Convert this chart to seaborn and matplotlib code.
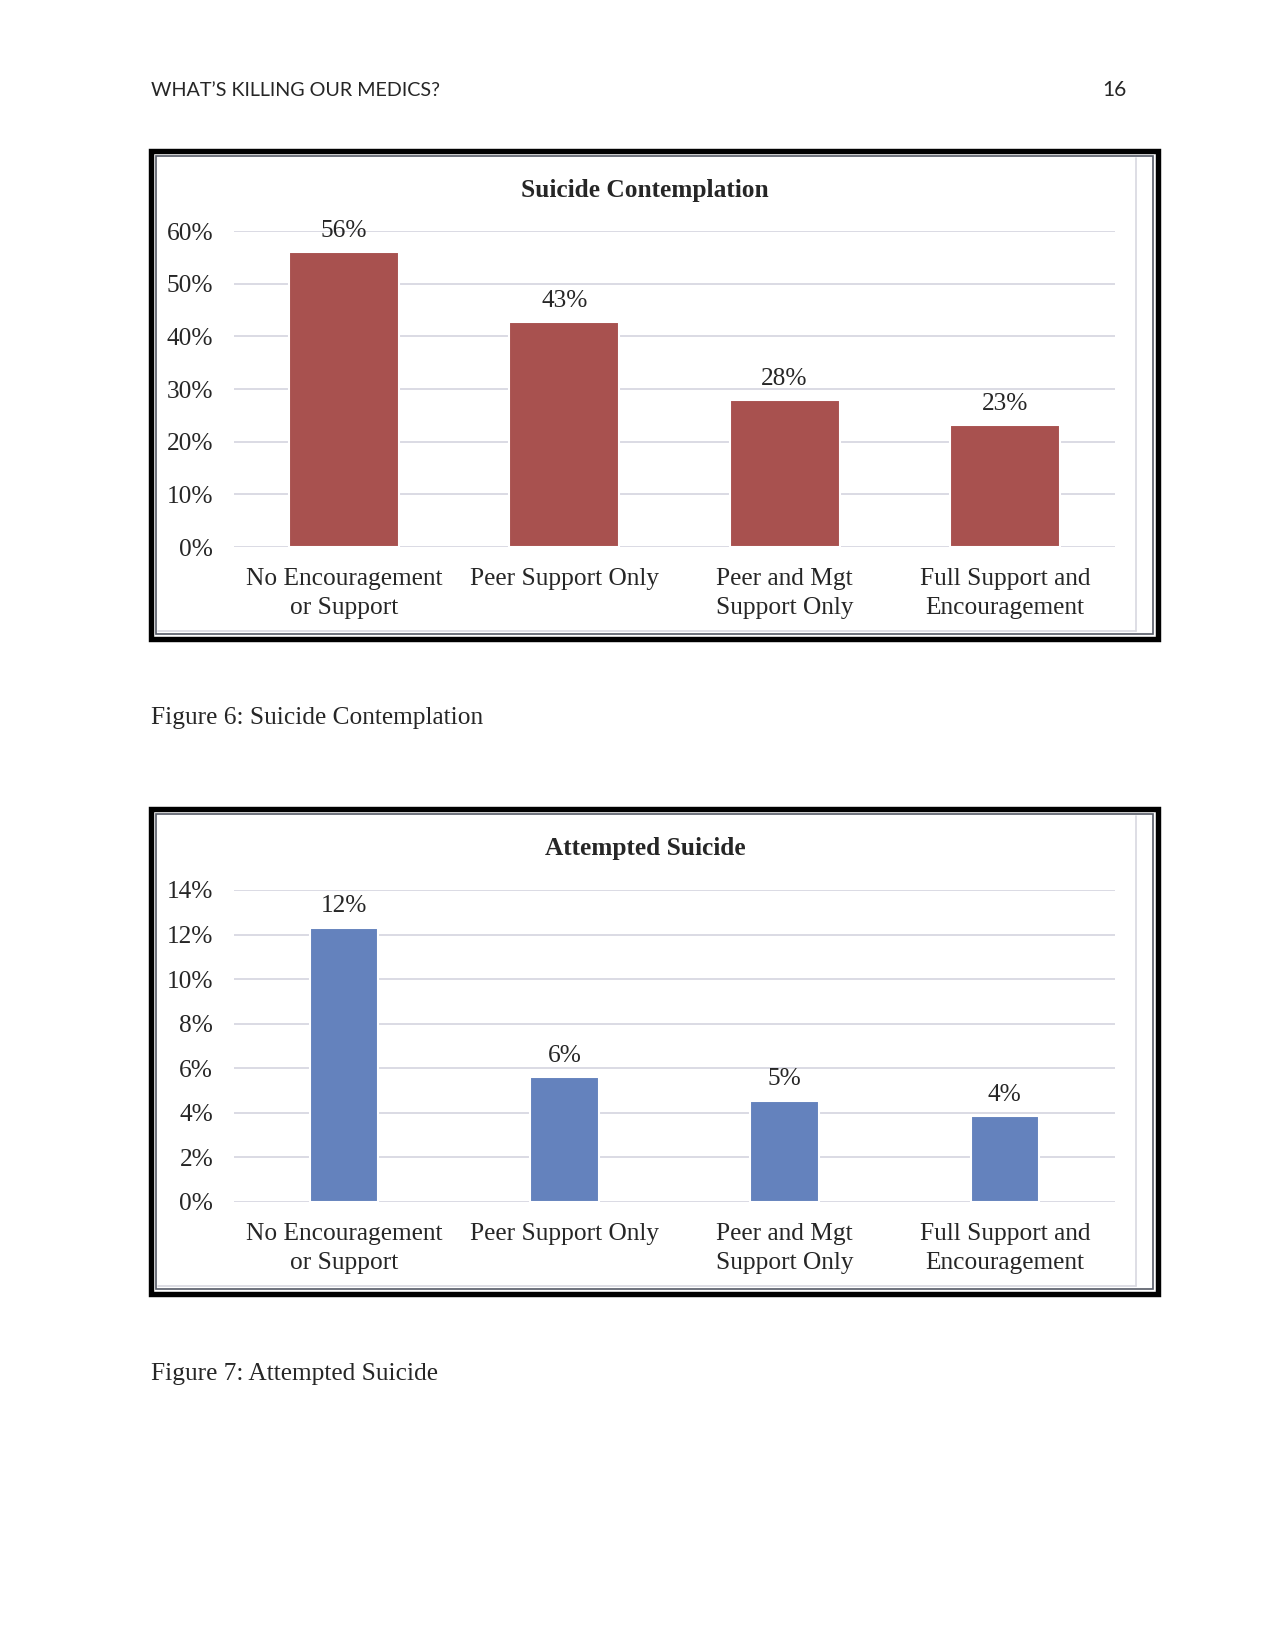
import pandas as pd
import seaborn as sns
import matplotlib.pyplot as plt
from matplotlib.patches import Rectangle
from matplotlib.lines import Line2D
from matplotlib.ticker import PercentFormatter

# dados
categorias = ['No Encouragement\nor Support', 'Peer Support Only',
              'Peer and Mgt\nSupport Only', 'Full Support and\nEncouragement']
contemplacao = [56.0, 42.7, 27.9, 23.1]
contemplacao_rotulos = ['56%', '43%', '28%', '23%']
tentativa = [12.3, 5.6, 4.55, 3.85]
tentativa_rotulos = ['12%', '6%', '5%', '4%']

W, H = 1275, 1650
sns.set_style('white')
plt.rcParams['font.family'] = ['Liberation Serif', 'DejaVu Serif']

fig = plt.figure(figsize=(W / 150, H / 150), dpi=150)


def fx(px):
    return px / W


def fy(py):
    return 1 - py / H


def moldura(y_top, y_bot, x_left=151, x_right=1158):
    # borda dupla: preta grossa por fora, cinza fina por dentro
    fig.patches.append(Rectangle((fx(x_left), fy(y_bot)), fx(x_right - x_left), (y_bot - y_top) / H,
                                 transform=fig.transFigure, fill=False, ec='black', lw=2.6))
    fig.patches.append(Rectangle((fx(x_left + 5), fy(y_bot - 5)), fx(x_right - x_left - 10), (y_bot - y_top - 10) / H,
                                 transform=fig.transFigure, fill=False, ec='#555a66', lw=0.8))
    fig.lines.append(Line2D([fx(x_right - 22), fx(x_right - 22)], [fy(y_top + 7), fy(y_bot - 8)],
                            transform=fig.transFigure, color='#d8d8e0', lw=0.8))
    fig.lines.append(Line2D([fx(x_left + 7), fx(x_right - 22)], [fy(y_bot - 8), fy(y_bot - 8)],
                            transform=fig.transFigure, color='#d8d8e0', lw=0.8))


def grafico(y0, ytop, valores, rotulos, cor, largura, ymax, passo, titulo, y_titulo):
    ax = fig.add_axes([fx(234), fy(y0), fx(1115 - 234), (y0 - ytop) / H])
    df = pd.DataFrame({'cat': categorias, 'val': valores})
    sns.barplot(data=df, x='cat', y='val', color=cor, width=largura, saturation=1, ax=ax)
    ax.bar_label(ax.containers[0], labels=rotulos, padding=5, fontsize=12.2)
    ax.set_ylim(0, ymax)
    ax.set_xlim(-0.5, 3.5)
    ax.set_yticks([i * passo for i in range(int(ymax / passo) + 1)])
    ax.yaxis.set_major_formatter(PercentFormatter(decimals=0))
    ax.set_xticks(range(len(categorias)))
    ax.set_xticklabels(categorias, linespacing=1.45)
    ax.yaxis.grid(True, color='#d9d9e3', lw=0.9)
    ax.set_axisbelow(True)
    for s in ax.spines.values():
        s.set_visible(False)
    ax.tick_params(axis='both', length=0, labelsize=12.2)
    ax.tick_params(axis='y', pad=10)
    ax.tick_params(axis='x', pad=10)
    ax.set_xlabel('')
    ax.set_ylabel('')
    fig.text(fx(645), fy(y_titulo), titulo, ha='center', va='center', fontsize=12.2, fontweight='bold')
    return ax


# cabeçalho da página
fig.text(fx(151), fy(90), 'WHAT\u2019S KILLING OUR MEDICS?', ha='left', va='center',
         fontsize=9.5, family=['Lato', 'DejaVu Sans'])
fig.text(fx(1127), fy(90), '16', ha='right', va='center', fontsize=10, family=['Lato', 'DejaVu Sans'])

# Figura 6
moldura(151, 639)
grafico(547, 231, contemplacao, contemplacao_rotulos, '#a8514f', 0.5, 60, 10,
        'Suicide Contemplation', 191)
fig.text(fx(151), fy(718), 'Figure 6: Suicide Contemplation', ha='left', va='center', fontsize=12.2)

# Figura 7
moldura(809, 1294)
grafico(1202, 890, tentativa, tentativa_rotulos, '#6482bd', 0.31, 14, 2,
        'Attempted Suicide', 849)
fig.text(fx(151), fy(1374), 'Figure 7: Attempted Suicide', ha='left', va='center', fontsize=12.2)

fig.savefig('out.png', dpi=150)
